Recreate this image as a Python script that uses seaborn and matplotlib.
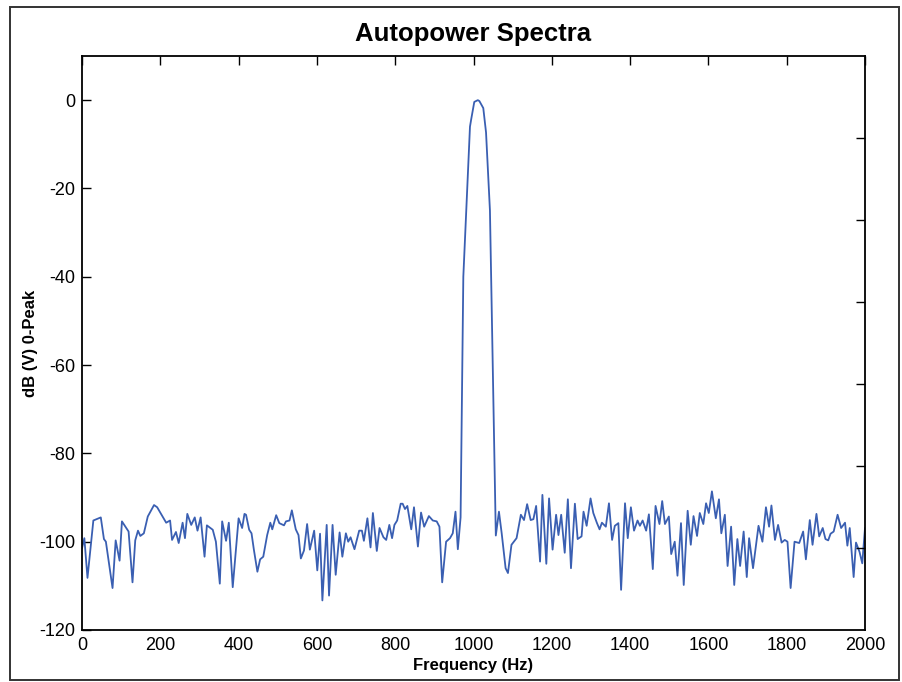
import matplotlib
matplotlib.use("Agg")
import matplotlib.pyplot as plt
from matplotlib.patches import Rectangle
import seaborn as sns
import pandas as pd

# Frequencies (Hz) of the visible vertices, and level (dB V 0-peak)
freq_hz = [
    0, 6, 14, 29, 48, 56, 61, 78, 86, 96, 102, 119, 129, 136, 143, 149, 158, 168, 184, 192,
    215, 225, 230, 240, 247, 257, 263, 269, 279, 288, 295, 303, 313, 319, 334,
    342, 352, 358, 368, 375, 385, 400, 409, 415, 419, 427, 433, 439, 448, 455, 463, 473, 481,
    486, 496, 504, 516, 521, 530, 536, 546, 553, 559, 567, 575, 582, 593, 601, 608, 614, 625,
    631, 640, 648, 658, 665,
    674, 680, 686, 696, 708, 715, 720, 729, 737, 743, 753, 760, 770, 777, 785, 792, 798, 805,
    814, 819, 825, 831, 841, 848, 858, 866, 874, 886, 896, 906, 913, 920, 930, 940, 947, 954,
    960, 967,
    974, 991, 994, 1002, 1011, 1015, 1025, 1032, 1042, 1057,
    1065, 1072, 1082, 1088, 1097, 1110, 1121, 1129, 1137, 1146, 1153, 1160, 1170, 1176, 1186,
    1193, 1202, 1211, 1217, 1224, 1233, 1241, 1249, 1259, 1266, 1276, 1281, 1289, 1299, 1306,
    1315, 1322, 1328,
    1338, 1346, 1354, 1361, 1370, 1377, 1387, 1394, 1402, 1410, 1419, 1425, 1432, 1441, 1448,
    1458, 1465, 1475, 1482, 1489, 1499, 1505, 1514, 1521, 1530, 1537, 1547, 1555, 1562, 1571,
    1578, 1587, 1594, 1601, 1609, 1619, 1627, 1633, 1642, 1649, 1658, 1666,
    1674, 1681, 1690, 1698, 1704, 1714, 1728, 1738, 1747, 1755, 1761, 1770, 1778, 1787, 1795,
    1802, 1810, 1820, 1832, 1842, 1849, 1859, 1866, 1876, 1883, 1892, 1899, 1906, 1912, 1920,
    1930, 1939, 1949, 1955, 1961, 1971, 1977, 1986, 1993, 2000,
]
level_db = [
    -101.5, -99.2, -108.2, -95.2, -94.5, -99.4, -100, -110.5, -99.7, -104.3, -95.4, -97.7, -109.2, -99.7, -97.5, -98.7, -98.1, -94.3, -91.7, -92.2,
    -95.7, -95.2, -99.6, -97.8, -100.3, -95.7, -99.2, -93.7, -96.2, -94.5, -97.5, -94.5, -103.4, -96.3, -97.3,
    -100, -109.5, -95.4, -99.8, -95.7, -110.3, -94.7, -96.9, -93.7, -93.9, -97.3, -98.1, -101.8, -106.8, -104, -103.4, -98.5, -95.7,
    -97.2, -94, -95.8, -96.3, -95.4, -95.2, -92.9, -97.2, -98.5, -103.8, -102, -96, -101.8, -97.5, -106.5, -98.2, -113.3, -96.2,
    -112.2, -96.2, -107.5, -97.9, -103.4,
    -98.1, -100, -99, -101.7, -97.5, -97.5, -99.8, -94.7, -101.3, -93.5, -102.1, -96.9, -99, -99.6, -96.2, -99.2, -96.2, -95.2,
    -91.4, -91.4, -92.6, -91.9, -97.2, -92.2, -101.1, -93.4, -96.6, -94.2, -95.2, -95.4, -96.6, -109.2, -100, -99.2, -98.1, -93.2,
    -101.7, -94.5,
    -40, -6, -4.4, -0.4, 0, -0.2, -1.8, -7.3, -25, -98.6,
    -93.2, -98.1, -106, -107.1, -100.7, -99.2, -93.9, -95.1, -91.5, -95.1, -94.9, -91.9, -104.5, -89.4, -105,
    -90.2, -101.8, -93.9, -98.5, -93.9, -102.5, -90.4, -106, -91.4, -99.4, -98.8, -93.2, -96.4, -90.2, -93.5,
    -95.7, -97.2, -95.7,
    -96.6, -91.3, -99.6, -96.4, -95.8, -110.9, -91.3, -99.2, -92.2, -97.5, -95.2, -96.4, -95.2, -97.5, -93.8,
    -106.2, -91.9, -96, -90.8, -96, -94.3, -102.8, -100, -107.7, -95.8, -109.8, -93, -100.7, -94.2, -98.7,
    -93.5, -96, -91.3, -93.5, -88.6, -94.7, -90.4, -98.1, -93.9, -105.5, -96.6, -109.8,
    -99.4, -105.5, -97.7, -108, -99.2, -106, -96.4, -100, -92.2, -96.6, -91.8, -99.6, -96.2, -100.2, -99.6,
    -100, -110.5, -100, -100.3, -97.7, -104, -95.1, -100.7, -93.7, -98.8, -96.9, -99.4, -99.7, -98.2, -97.7,
    -93.9, -96.9, -95.7, -100.9, -96.9, -108, -100.2, -102.3, -104.9, -96.9,
]

x_ticks = [0, 200, 400, 600, 800, 1000, 1200, 1400, 1600, 1800, 2000]
y_ticks = [0, -20, -40, -60, -80, -100, -120]

title_text = "Autopower Spectra"
x_label = "Frequency (Hz)"
y_label = "dB (V) 0-Peak"

sns.set_theme(style="white")
plt.rcParams["font.family"] = ["Liberation Sans", "DejaVu Sans"]

df = pd.DataFrame({"freq": freq_hz, "db": level_db})

fig = plt.figure(figsize=(9.02, 6.82), dpi=100)
ax = fig.add_axes([82 / 902, 1 - 630 / 682, 783 / 902, 574 / 682])

sns.lineplot(data=df, x="freq", y="db", ax=ax, color="#3a5fb2", linewidth=1.3,
             estimator=None, sort=False)

ax.set_xlim(0, 2000)
ax.set_ylim(-120, 10)
ax.set_xticks(x_ticks)
ax.set_yticks(y_ticks)
ax.set_xticklabels([str(v) for v in x_ticks])
ax.set_yticklabels([str(v) for v in y_ticks])

ax.tick_params(axis="both", direction="in", length=6.5, width=1.0, color="black",
               labelsize=13, labelcolor="black", top=True, right=False)
ax.tick_params(axis="x", pad=5)
ax.tick_params(axis="y", pad=5)

for s in ax.spines.values():
    s.set_visible(True)
    s.set_color("black")
    s.set_linewidth(1.3)

ax2 = ax.twinx()
ax2.set_ylim(0, 7)
ax2.set_yticks([1, 2, 3, 4, 5, 6])
ax2.set_yticklabels([])
ax2.tick_params(axis="y", direction="in", length=6.5, width=1.0, color="black", right=True)
ax2.grid(False)
for s in ax2.spines.values():
    s.set_visible(False)

ax.set_title(title_text, fontsize=18.5, fontweight="bold", pad=11, color="black")
ax.set_xlabel(x_label, fontsize=12, fontweight="bold", labelpad=3, color="black")
ax.set_ylabel(y_label, fontsize=12, fontweight="bold", labelpad=0.5, color="black")
ax.grid(False)

border = Rectangle((10 / 902, 1 - 680 / 682), 889 / 902, 673 / 682, transform=fig.transFigure,
                   fill=False, edgecolor="#333333", linewidth=1.4)
fig.patches.append(border)

fig.savefig("out.png", dpi=100)
